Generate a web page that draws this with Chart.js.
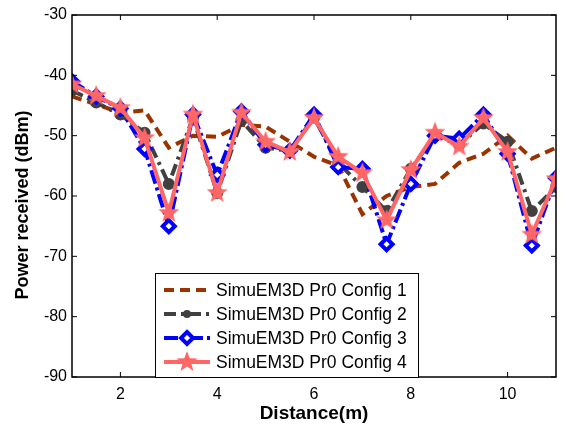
<!DOCTYPE html>
<html>
<head>
<meta charset="utf-8">
<script src="https://cdn.jsdelivr.net/npm/chart.js@4"></script>
<style>
  html, body { margin: 0; padding: 0; background: #fff; }
  #wrap { width: 566px; height: 427px; }
</style>
</head>
<body>
<div id="wrap"><canvas id="powerChart" width="566" height="427"></canvas></div>
<script>
// Data
const distances = [1, 1.5, 2, 2.5, 3, 3.5, 4, 4.5, 5, 5.5, 6, 6.5, 7, 7.5, 8, 8.5, 9, 9.5, 10, 10.5, 11];
const config1 = [-43.5, -44.8, -46.2, -45.8, -52, -50, -50.2, -48.2, -48.5, -51, -53.5, -55, -63, -60, -58.5, -58, -54.5, -53, -50, -53.8, -52];
const config2 = [-42.5, -44.5, -46.5, -49.5, -58, -47, -59.5, -47.5, -52, -52.5, -47, -54.5, -58.5, -62.5, -55.5, -50, -51.5, -48, -51, -62.5, -58.5];
const config3 = [-41, -43.5, -45.5, -52.2, -65, -46.5, -56.5, -46, -51.5, -52.5, -46.5, -55.2, -55.5, -68, -58, -50, -50.5, -46.5, -53, -68.2, -57];
const config4 = [-41.5, -43.4, -45.4, -50.4, -62.8, -46.5, -59.5, -46.2, -51, -52.7, -47.1, -53.5, -56.2, -64, -55.7, -49.5, -51.8, -47.1, -52.7, -66.4, -57.2];
const seriesLabels = ["SimuEM3D Pr0 Config 1", "SimuEM3D Pr0 Config 2", "SimuEM3D Pr0 Config 3", "SimuEM3D Pr0 Config 4"];
const xTicks = [2, 4, 6, 8, 10];
const yTicks = [-90, -80, -70, -60, -50, -40, -30];
const xTitle = 'Distance(m)';
const yTitle = 'Power received (dBm)';

const FONT = "'Liberation Sans', Arial, sans-serif";

// filled five-point star used as the marker of config 4
function makeStar(r, color) {
  const c = document.createElement('canvas');
  c.width = c.height = r * 2 + 2;
  const g = c.getContext('2d');
  g.translate(r + 1, r + 1);
  g.beginPath();
  for (let i = 0; i < 10; i++) {
    const rad = i % 2 === 0 ? r : r * 0.42;
    const a = -Math.PI / 2 + i * Math.PI / 5;
    g.lineTo(rad * Math.cos(a), rad * Math.sin(a));
  }
  g.closePath();
  g.fillStyle = color;
  g.fill();
  return c;
}
const starImg = makeStar(11, '#ff6666');

function pts(vals) {
  return distances.map((d, i) => ({ x: d, y: vals[i] }));
}

// box, inward ticks, y title and legend, drawn MATLAB style
const boxPlugin = {
  id: 'boxPlugin',
  afterDraw(chart) {
    const { ctx, chartArea: a, scales } = chart;
    ctx.save();
    ctx.strokeStyle = '#000';
    ctx.lineWidth = 1.5;
    ctx.strokeRect(a.left, a.top, a.right - a.left, a.bottom - a.top);
    ctx.lineWidth = 1;
    const tl = 5;
    ctx.beginPath();
    scales.x.ticks.forEach(t => {
      const px = scales.x.getPixelForValue(t.value);
      ctx.moveTo(px, a.bottom); ctx.lineTo(px, a.bottom - tl);
      ctx.moveTo(px, a.top); ctx.lineTo(px, a.top + tl);
    });
    scales.y.ticks.forEach(t => {
      const py = scales.y.getPixelForValue(t.value);
      ctx.moveTo(a.left, py); ctx.lineTo(a.left + tl, py);
      ctx.moveTo(a.right, py); ctx.lineTo(a.right - tl, py);
    });
    ctx.stroke();

    // y axis title
    ctx.save();
    ctx.translate(23, 205);
    ctx.rotate(-Math.PI / 2);
    ctx.font = 'bold 18px ' + FONT;
    ctx.fillStyle = '#000';
    ctx.textAlign = 'center';
    ctx.textBaseline = 'middle';
    ctx.fillText(yTitle, 0, 0);
    ctx.restore();

    // legend box
    const lx = 155, ly = 273, lw = 263, lh = 104;
    ctx.fillStyle = '#fff';
    ctx.fillRect(lx, ly, lw, lh);
    ctx.strokeStyle = '#000';
    ctx.lineWidth = 1;
    ctx.strokeRect(lx + 0.5, ly + 0.5, lw, lh);
    ctx.font = '17.5px ' + FONT;
    ctx.textBaseline = 'middle';
    const rows = [290, 314, 338, 362];
    chart.data.datasets.forEach((ds, i) => {
      const y = rows[i];
      ctx.strokeStyle = ds.borderColor;
      ctx.lineWidth = ds.borderWidth;
      ctx.setLineDash(ds.borderDash || []);
      ctx.beginPath();
      ctx.moveTo(164, y); ctx.lineTo(210, y);
      ctx.stroke();
      ctx.setLineDash([]);
      const cx = 187;
      if (ds.pointStyle === 'circle') {
        ctx.fillStyle = ds.pointBackgroundColor;
        ctx.beginPath(); ctx.arc(cx, y, ds.pointRadius, 0, Math.PI * 2); ctx.fill();
      } else if (ds.pointStyle === 'rectRot') {
        const r = ds.pointRadius;
        ctx.beginPath();
        ctx.moveTo(cx, y - r); ctx.lineTo(cx + r, y); ctx.lineTo(cx, y + r); ctx.lineTo(cx - r, y); ctx.closePath();
        ctx.fillStyle = ds.pointBackgroundColor; ctx.fill();
        ctx.lineWidth = ds.pointBorderWidth; ctx.strokeStyle = ds.pointBorderColor; ctx.stroke();
      } else if (ds.pointStyle === starImg) {
        ctx.drawImage(starImg, cx - starImg.width / 2, y - starImg.height / 2);
      }
      ctx.fillStyle = '#000';
      ctx.fillText(ds.label, 216, y + 1);
    });
    ctx.restore();
  }
};

new Chart(document.getElementById('powerChart'), {
  type: 'line',
  data: {
    datasets: [
      { label: seriesLabels[0], data: pts(config1), borderColor: '#993300', borderWidth: 4, borderDash: [10, 6],
        pointRadius: 0, order: 4 },
      { label: seriesLabels[1], data: pts(config2), borderColor: '#404040', borderWidth: 4, borderDash: [12, 5, 3, 5],
        pointStyle: 'circle', pointRadius: 4, pointBackgroundColor: '#404040', pointBorderColor: '#404040', order: 3 },
      { label: seriesLabels[2], data: pts(config3), borderColor: '#0000ff', borderWidth: 4, borderDash: [14, 4, 3, 4],
        pointStyle: 'rectRot', pointRadius: 6, pointBackgroundColor: '#ffffff', pointBorderColor: '#0000ff',
        pointBorderWidth: 4, order: 2 },
      { label: seriesLabels[3], data: pts(config4), borderColor: '#ff6666', borderWidth: 4,
        pointStyle: starImg, order: 1 }
    ]
  },
  options: {
    responsive: false,
    animation: false,
    layout: { padding: { left: 0, right: 6, top: 15, bottom: 0 } },
    plugins: { legend: { display: false }, tooltip: { enabled: false } },
    elements: { line: { tension: 0, fill: false } },
    scales: {
      x: {
        type: 'linear', min: 1, max: 11,
        afterBuildTicks: s => { s.ticks = xTicks.map(v => ({ value: v })); },
        afterFit: s => { s.height = 50; },
        grid: { display: false, drawTicks: false },
        border: { display: false },
        ticks: { color: '#000', font: { family: FONT, size: 16 }, padding: 8, maxRotation: 0 },
        title: { display: true, text: xTitle, color: '#000', font: { family: FONT, size: 19, weight: 'bold' }, padding: { top: 0, bottom: 2 } }
      },
      y: {
        min: -90, max: -30,
        afterBuildTicks: s => { s.ticks = yTicks.map(v => ({ value: v })); },
        afterFit: s => { s.width = 72; },
        grid: { display: false, drawTicks: false },
        border: { display: false },
        ticks: { color: '#000', font: { family: FONT, size: 16 }, padding: 5 },
        title: { display: false }
      }
    }
  },
  plugins: [boxPlugin]
});
</script>
</body>
</html>
